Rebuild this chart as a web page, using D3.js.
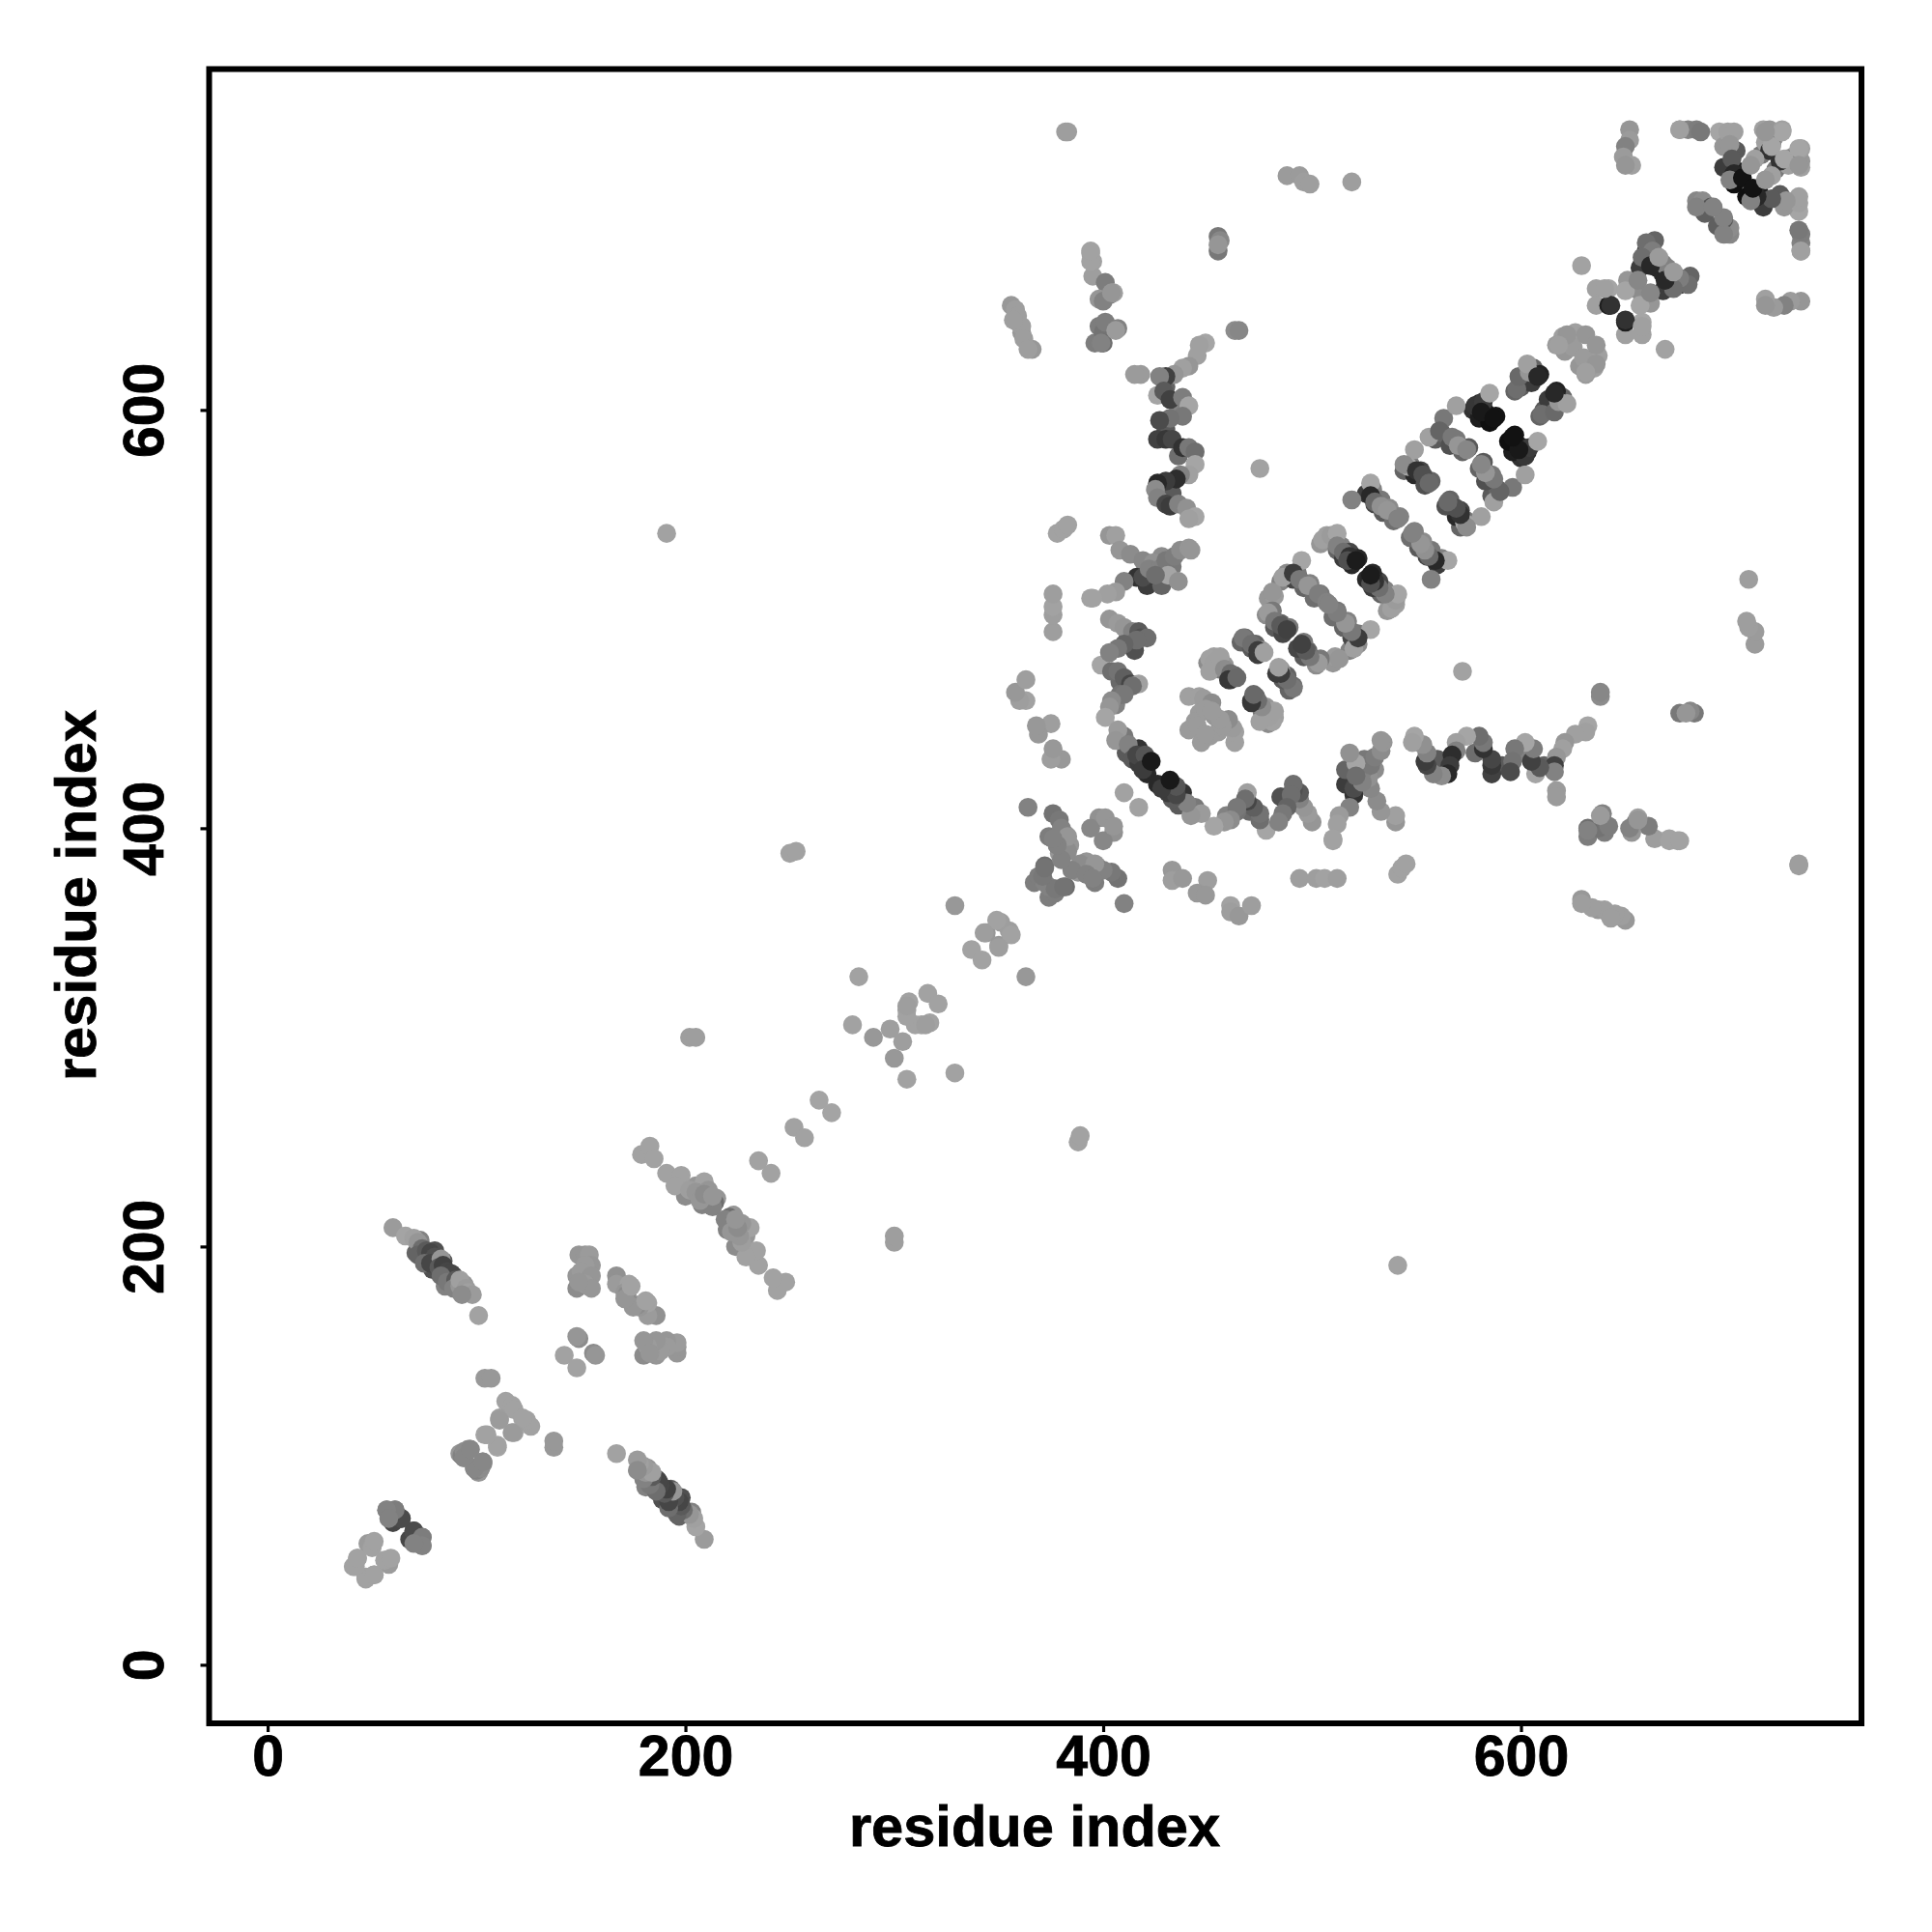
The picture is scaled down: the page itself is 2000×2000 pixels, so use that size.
<!DOCTYPE html>
<html><head><meta charset="utf-8">
<style>html,body{margin:0;background:#fff}svg{display:block}</style>
<script src="https://cdn.jsdelivr.net/npm/d3@7/dist/d3.min.js"></script>
</head><body><div id="c"></div>
<script>
// [residue i, residue j, grey level] — each contact is plotted at (i,j) and (j,i)
const lowerCorner=[[41,47,162],[43,51,162],[50,57,155],[48,58,155],[47,42,162],[51,43,162],[56,50,162],[59,51,162],
 [57,74,130],[61,74,130],[60,68,70],[64,70,85],[70,64,75],[74,61,125],[74,57,130],[70,58,130]];
const strandOuter=[[73,203,130],[71,197,100],[76,194,80],[80,198,80],[79,189,80],[84,193,90],[85,185,90],[89,186,100],[85,181,130],[94,182,150],[200,224,140],[205,229,150],[208,220,130],[210,222,120],[215,223,150],[214,221,110]];
const strandA=[[60,209,155],[66,205,164],[70,204,160],[72,202,150],[74,199,110],[72,196,100],[76,198,90],[78,197,70],[80,195,80],[75,192,110],[78,192,70],[83,194,150],[82,190,90],[84,191,65],[86,188,70],[88,187,70],[83,186,110],[86,183,120],[90,184,90],[89,180,130],[92,181,150],[92,184,160],[95,180,155],[96,178,160],[98,177,155],[93,177,140],[101,167,162]];
const earlyPairs=[[104,137,152],[107,137,152],[114,126,162],[117,124,162],[111,118,158],[118,122,162],[104,110,164],[110,105,162],[117,111,155],[92,101,150],[93,100,130],[94,102,140],[96,103,140],[94,99,140],[97,103,140],[99,94,135],[103,97,135],[142,148,162],[149,156,140],[148,157,150]];
const blockB=[[149,196,150],[152,196,150],[154,196,155],[155,191,150],[152,191,155],[148,186,150],[150,188,155],[155,186,150],[148,180,140],[152,182,155],[155,180,150],[149,183,150],[167,186,145],[167,182,155],[173,182,162],[171,178,150],[177,172,140],[175,171,150],[181,174,162]];
const strandC=[[179,244,162],[183,248,162],[185,242,162],[191,235,162],[198,234,162],[195,229,162],[202,227,158],[209,231,162],[211,227,150],[205,226,150],[213,219,130],[207,222,150],[209,225,140],[213,224,150]];
const diagonalScatter=[[235,241,162],[252,257,162],[264,270,164],[280,306,162],[283,329,162],[290,300,152],[298,304,158],[306,313,162],[310,306,162],[307,317,162],[316,321,162],[329,363,152],[337,342,162],[344,350,152],[351,355,158],[349,356,162],[315,306,158],[350,343,158],[202,300,158],[205,300,158],[191,541,162],[250,388,162],[253,389,162]];
const knotD=[[364,410,130],[376,407,115],[379,404,120],[374,396,125],[376,395,120],[382,397,155],[384,392,150],[379,388,150],[378,392,130],[380,400,130],[398,405,145],[394,400,135],[401,405,150],[367,374,125],[369,377,125],[372,382,110],[374,372,130],[377,371,120],[382,390,125],[389,383,140],[396,383,150],[381,372,115],[410,417,162],[385,380,130],[392,378,130],[395,376,130]];
const farE=[[378,541,162],[381,543,162],[383,545,162],[376,494,158],[376,502,158],[376,506,162],[376,512,158],[394,510,162],[380,433,152],[375,433,158],[376,438,152],[375,450,158],[369,445,152],[368,449,152],[363,461,162],[360,461,158],[358,465,152],[363,471,158],[366,629,152],[361,637,152],[359,642,148],[356,650,152],[358,648,158],[359,645,158],[361,640,158],[362,634,158],[364,629,158],[357,643,158]];
const columnF=[[394,675,162],[395,671,162],[395,664,158],[401,661,125],[403,655,130],[405,656,160],[398,653,150],[400,652,130],[394,671,162],[394,676,162],[404,656,150],[396,632,125],[398,640,125],[400,637,115],[400,632,110],[399,632,130],[401,642,125],[407,639,130],[406,638,155],[382,733,158],[383,733,158],[455,683,120],[456,681,135],[455,676,120],[455,679,150],[488,712,155],[494,712,155],[496,709,158],[499,708,158],[519,709,158],[463,638,140],[465,638,135],[475,572,162]];
const curveOuter=[[412,492,120],[415,485,80],[408,470,105],[406,459,130],[410,444,120],[411,436,90],[417,438,50],[421,426,40],[421,516,60],[428,516,100],[433,525,120],[428,530,140]];
const curveG=[[399,478,165],[403,500,150],[407,498,155],[410,496,150],[414,494,130],[417,494,90],[418,491,80],[421,491,110],[416,490,110],[410,488,100],[407,486,120],[403,484,130],[404,475,110],[407,475,115],[410,472,95],[413,469,70],[417,469,160],[414,468,110],[408,464,115],[410,464,120],[404,461,140],[403,458,150],[401,453,165],[407,447,155],[406,442,150],[412,440,130],[414,433,90],[417,431,60],[416,435,70],[420,435,85],[419,428,60],[423,432,25]];
const crossH=[[403,540,150],[406,540,160],[408,533,150],[413,531,140],[419,528,135],[424,527,145],[416,520,50],[419,520,75],[410,518,130],[406,513,155],[402,512,160],[395,510,162],[422,524,130],[427,524,130],[430,528,120],[434,530,125],[437,533,140],[441,534,150],[442,533,150],[431,521,165],[436,518,145],[425,521,110]];
const helixOuter=[[430,611,100],[436,600,130],[430,591,90],[436,578,110],[428,560,70],[433,560,90]];
const helixI=[[449,632,165],[446,631,160],[445,626,160],[441,621,150],[438,620,160],[434,617,150],[430,616,65],[427,616,130],[418,617,155],[415,617,155],[426,607,165],[429,609,90],[432,605,65],[438,606,125],[441,602,165],[438,597,120],[432,596,115],[427,595,75],[426,586,65],[430,586,55],[433,586,70],[438,582,50],[441,582,120],[444,580,110],[444,574,165],[441,569,160],[437,569,130],[435,567,45],[430,566,60],[426,565,40],[425,562,140],[426,558,130],[430,555,70],[432,554,60],[436,555,130],[440,553,145],[444,549,165],[441,548,160]];
const ladderOuter=[[450,479,140],[453,482,160],[456,476,120],[458,478,150],[461,471,60],[463,473,100],[466,489,100],[468,491,110],[471,486,90],[473,488,100],[474,483,60],[476,485,150],[479,510,150],[482,511,155],[478,502,140],[481,504,120],[482,496,90],[485,498,100],[486,493,70],[489,496,120],[485,518,130],[488,522,140],[491,519,70],[493,522,120],[496,515,100],[499,517,130],[501,510,110],[504,512,120],[504,536,150],[507,540,160],[512,533,100],[514,535,130],[515,529,60],[518,532,70],[519,526,40],[522,529,40],[526,560,60],[529,562,130],[530,555,70],[533,557,120],[534,551,90],[537,553,140],[539,547,110],[542,549,130],[544,571,100],[547,574,120],[549,569,40],[552,571,70],[554,564,80],[557,566,100],[559,586,90],[562,589,100],[566,583,80],[569,586,120],[572,580,100],[575,582,90],[577,600,50],[580,603,40],[580,596,30],[583,599,30],[585,594,15],[588,597,20],[597,609,100],[600,611,90],[603,615,60],[605,613,60],[606,620,100],[609,617,35]];
const ladderA=[[441,463,160],[446,463,160],[448,462,155],[452,460,140],[446,455,155],[444,451,155],[441,447,155],[445,449,155],[453,454,150],[449,457,155],[456,452,155],[451,481,162],[453,479,160],[456,482,160],[451,475,160],[458,476,140],[461,474,110],[460,471,55],[464,472,105],[467,491,120],[471,488,110],[474,485,60],[477,484,160],[481,513,150],[479,503,155],[482,499,120],[485,497,90],[488,495,65]];
const ladderB=[[486,520,160],[495,528,165],[491,522,60],[494,519,120],[498,516,150],[503,512,125],[507,508,130],[505,538,160],[509,540,155],[512,541,165],[512,535,130],[515,532,110],[518,530,50],[517,528,80],[521,528,28],[519,557,130],[528,565,165],[528,559,40],[530,556,105],[533,554,145],[536,552,150],[541,548,130]];
const ladderC=[[549,581,160],[546,573,165],[544,574,140],[550,571,50],[553,569,80],[556,565,105],[563,596,120],[556,587,160],[561,590,100],[567,587,120],[570,583,150],[574,581,135],[569,602,160],[578,602,55],[582,604,60],[585,608,165],[581,599,25],[587,596,18],[598,610,110],[599,616,105],[604,618,150],[603,622,160],[608,616,40]];
const tailOuter=[[660,676,60],[664,681,100],[657,668,60],[665,668,40],[651,662,150],[655,658,140],[668,670,130],[697,716,60],[704,714,30],[702,708,15],[703,724,90],[695,733,165],[697,726,150],[721,730,150],[715,722,120],[722,733,160]];
const tailJ=[[620,635,160],[626,637,160],[617,631,155],[621,628,150],[625,630,155],[631,636,150],[622,636,150],[618,631,160],[629,669,162],[636,658,160],[642,658,165],[636,650,160],[642,650,30],[650,643,50],[658,640,160],[650,657,165],[656,662,135],[660,680,110],[663,676,125],[658,673,110],[662,669,40],[666,673,155]];
const cornerK=[[652,734,150],[652,729,155],[650,726,130],[649,721,155],[653,717,160],[650,717,150],[676,734,155],[680,734,130],[684,734,125],[686,733,120],[676,734,160],[684,700,135],[687,700,140],[691,697,85],[688,694,95],[684,697,130],[697,692,130],[699,733,160],[702,733,160],[700,727,150],[701,720,90],[702,713,40],[700,710,130],[706,711,18],[716,734,160],[719,734,150],[725,734,160],[720,727,125],[717,728,160],[719,724,50],[712,720,160],[710,717,150],[720,726,165],[725,733,165],[717,733,150]];
const contacts=[lowerCorner,strandOuter,strandA,earlyPairs,blockB,strandC,diagonalScatter,knotD,farE,columnF,curveOuter,curveG,crossH,helixOuter,helixI,ladderOuter,ladderA,ladderB,ladderC,tailOuter,tailJ,cornerK].flat();
const tickValues=[0,200,400,600];
const axisTitle="residue index";
const W=2000,H=2000;
const x=d3.scaleLinear().domain([-28,763]).range([216.5,1927]);
const y=d3.scaleLinear().domain([-28,763]).range([1784,71.5]);
const svg=d3.select("#c").append("svg").attr("width",W).attr("height",H).attr("viewBox",`0 0 ${W} ${H}`);
const points=contacts.flatMap(c=>[{a:c[0],b:c[1],g:c[2]},{a:c[1],b:c[0],g:c[2]}]);
svg.append("g").selectAll("circle").data(points).join("circle")
 .attr("cx",d=>x(d.a)).attr("cy",d=>y(d.b)).attr("r",9.8)
 .attr("fill",d=>d3.rgb(d.g,d.g,d.g));
const font="'Liberation Sans',Arial,sans-serif";
const gx=svg.append("g").attr("transform","translate(0,1784)").call(d3.axisBottom(x).tickValues(tickValues).tickSize(9).tickPadding(0));
const gy=svg.append("g").attr("transform","translate(216.5,0)").call(d3.axisLeft(y).tickValues(tickValues).tickSize(9).tickPadding(0));
[gx,gy].forEach(g=>{g.select(".domain").remove();g.selectAll(".tick line").attr("stroke","#000").attr("stroke-width",3.2);
 g.selectAll("text").attr("font-family",font).attr("font-weight",700).attr("font-size",59).attr("fill","#000").attr("stroke","#000").attr("stroke-width",0.8);});
gx.selectAll("text").attr("dy",null).attr("y",54);
gy.selectAll("text").attr("dy",null).attr("x",null).attr("text-anchor","middle").attr("transform","translate(-48,0) rotate(-90)").attr("y",0);
svg.append("rect").attr("x",216.5).attr("y",71.5).attr("width",1710.5).attr("height",1712.5).attr("fill","none").attr("stroke","#000").attr("stroke-width",6);
svg.append("text").attr("x",1071).attr("y",1911).attr("text-anchor","middle").attr("font-family",font).attr("font-weight",700).attr("font-size",59.6).attr("stroke","#000").attr("stroke-width",0.8).text(axisTitle);
svg.append("text").attr("transform","translate(99,927) rotate(-90)").attr("text-anchor","middle").attr("font-family",font).attr("font-weight",700).attr("font-size",59.6).attr("stroke","#000").attr("stroke-width",0.8).text(axisTitle);
</script></body></html>
